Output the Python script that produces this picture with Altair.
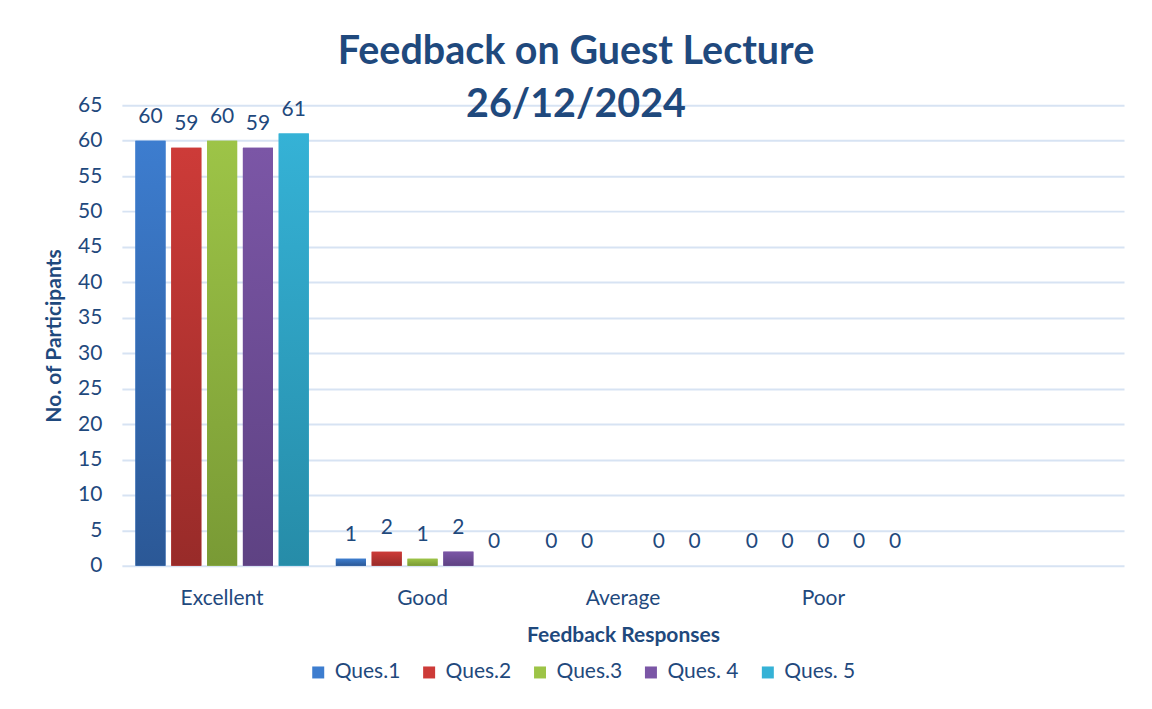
import altair as alt
import pandas as pd

categories = ["Excellent", "Good", "Average", "Poor", " "]
series = ["Ques.1", "Ques.2", "Ques.3", "Ques. 4", "Ques. 5"]
q1 = [60, 1, 0, 0]
q2 = [59, 2, 0, 0]
q3 = [60, 1, None, 0]
q4 = [59, 2, 0, 0]
q5 = [61, 0, 0, 0]
values = [q1, q2, q3, q4, q5]

top_colors = ["#3d7dcf", "#cd3b38", "#9dc447", "#7b56a6", "#35b2d6"]
bottom_colors = ["#2b5896", "#982b29", "#799a35", "#5e4283", "#268ca8"]
TEXT = "#1F497D"
FONT = "Lato"
FS = 21

rows = []
for s, vals in zip(series, values):
    for c, v in zip(categories, vals):
        rows.append({"cat": c, "series": s, "value": v})
df = pd.DataFrame(rows)

x_enc = alt.X("cat:N", sort=categories,
              scale=alt.Scale(domain=categories, paddingInner=0.135, paddingOuter=0.0675),
              axis=alt.Axis(title="Feedback Responses", labelAngle=0, domain=False, ticks=False,
                            labelPadding=22, titlePadding=16, labelFontSize=FS, titleFontSize=FS,
                            labelFont=FONT, titleFont=FONT, labelColor=TEXT, titleColor=TEXT,
                            titleFontWeight="bold"))
xo_enc = alt.XOffset("series:N", sort=series,
                     scale=alt.Scale(domain=series, paddingInner=0.16, paddingOuter=0))
y_enc = alt.Y("value:Q",
              scale=alt.Scale(domain=[0, 65], nice=False),
              axis=alt.Axis(title="No. of Participants", values=list(range(0, 66, 5)),
                            domain=False, ticks=False, labelPadding=20, titlePadding=13,
                            labelFontSize=FS, titleFontSize=FS, labelFont=FONT, titleFont=FONT,
                            labelColor=TEXT, titleColor=TEXT, titleFontWeight="bold",
                            gridColor="#d7e3f3", gridWidth=2))

base = alt.Chart(df)

legend_layer = base.mark_bar().encode(
    x=x_enc, xOffset=xo_enc, y=y_enc,
    color=alt.Color("series:N", sort=series,
                    scale=alt.Scale(domain=series, range=top_colors),
                    legend=alt.Legend(title=None, orient="none", direction="horizontal",
                                      legendX=186, legendY=557, symbolType="square",
                                      symbolSize=144, symbolStrokeWidth=0,
                                      labelFontSize=FS, labelFont=FONT, labelColor=TEXT,
                                      columnPadding=18, labelOffset=6, padding=0))
)

layers = [legend_layer]
for s, t, b in zip(series, top_colors, bottom_colors):
    grad = alt.Gradient(gradient="linear", x1=0, x2=0, y1=0, y2=1,
                        stops=[alt.GradientStop(offset=0, color=t),
                               alt.GradientStop(offset=1, color=b)])
    layers.append(
        base.transform_filter(alt.datum.series == s)
        .mark_bar(color=grad)
        .encode(x=x_enc, xOffset=xo_enc, y=y_enc)
    )

labels = base.mark_text(dy=-18, baseline="alphabetic", fontSize=FS, font=FONT, color=TEXT).encode(
    x=x_enc, xOffset=xo_enc, y=y_enc, text=alt.Text("value:Q")
)
layers.append(labels)

chart = alt.layer(*layers).properties(
    width=1003, height=461,
    title=alt.TitleParams(text=["Feedback on Guest Lecture", "26/12/2024"], fontSize=39.5,
                          font=FONT, fontWeight="bold", color=TEXT, anchor="middle",
                          dx=-47, offset=-31, lineHeight=53),
    autosize=alt.AutoSizeParams(type="none"),
    padding={"left": 114, "top": 97, "right": 20, "bottom": 135},
).configure_view(stroke=None)

chart.save("out.html", embed_options={"renderer": "svg", "actions": False})
